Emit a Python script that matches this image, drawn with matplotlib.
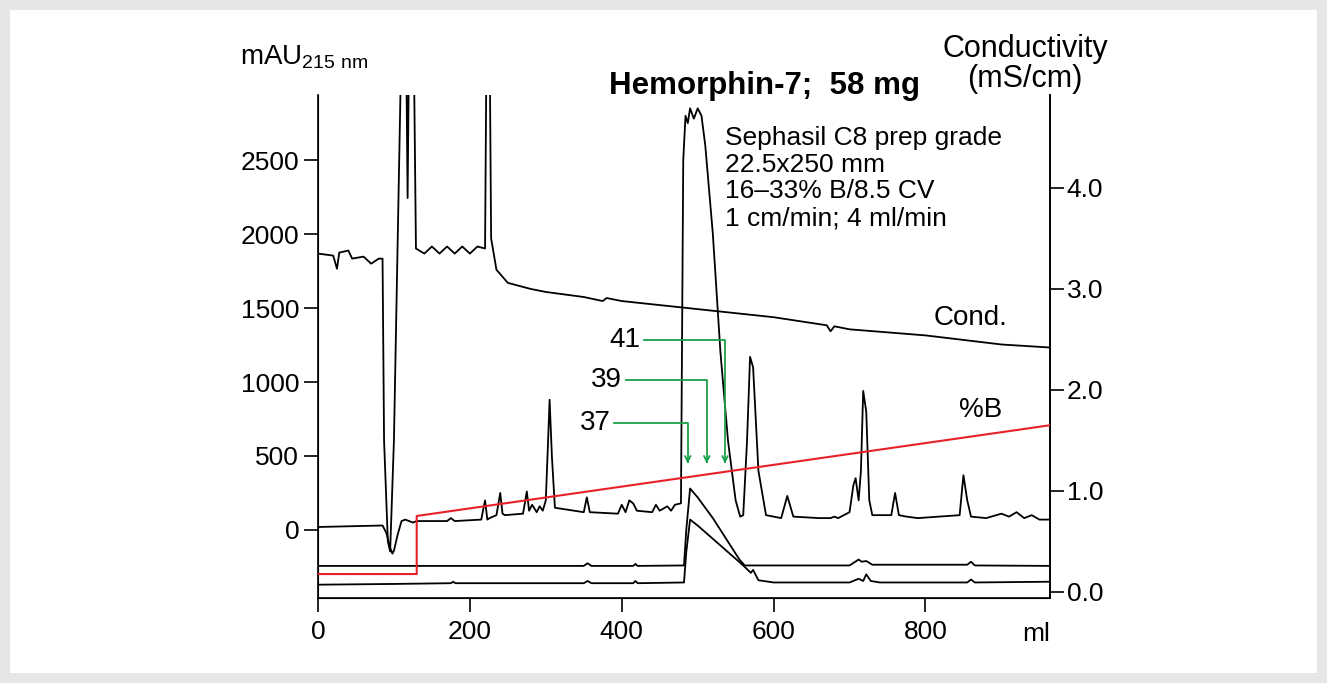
import matplotlib
matplotlib.use("Agg")
import matplotlib.pyplot as plt
from matplotlib.patches import Rectangle

plt.rcParams["font.family"] = ["Liberation Sans", "DejaVu Sans"]

# UV trace (mAU 215 nm)
uv_ml = [0, 85, 90, 95, 98, 100, 105, 110, 115, 125, 130, 170, 175, 180, 215, 220, 223, 226,
         235, 240, 243, 246, 270, 275, 278, 282, 288, 292, 296, 300, 303, 305, 308, 312, 350,
         354, 358, 395, 400, 405, 410, 415, 420, 440, 445, 450, 460, 465, 470, 478, 481, 484,
         487, 490, 495, 500, 505, 510, 520, 530, 540, 550, 556, 560, 565, 569, 573, 580, 590,
         610, 618, 626, 660, 675, 680, 685, 700, 705, 708, 712, 715, 718, 722, 726, 730, 755,
         760, 765, 775, 790, 845, 850, 855, 860, 880, 900, 910, 920, 930, 940, 950, 964]
uv_mau = [20, 30, -20, -120, -160, -140, -30, 60, 70, 50, 60, 60, 80, 60, 70, 200, 70, 80,
          100, 250, 110, 100, 110, 260, 130, 170, 120, 160, 130, 200, 600, 880, 500, 150, 120,
          220, 120, 110, 170, 120, 200, 180, 130, 120, 170, 130, 160, 130, 170, 180, 2500, 2800,
          2750, 2850, 2780, 2850, 2800, 2600, 2000, 1200, 600, 200, 90, 100, 600, 1170, 1100, 400, 100,
          80, 230, 90, 80, 80, 90, 80, 120, 300, 350, 200, 400, 940, 800, 200, 100, 100,
          250, 100, 90, 80, 100, 370, 200, 90, 80, 110, 90, 120, 80, 100, 70, 70]

# Conductivity (mS/cm)
cond_ml = [0, 20, 25, 28, 40, 45, 60, 70, 80, 85, 87, 92, 95, 100, 110, 116, 118, 120, 126,
           129, 140, 150, 160, 170, 180, 190, 200, 210, 220, 222, 226, 228, 235, 250, 280, 300,
           350, 375, 380, 400, 500, 600, 670, 675, 680, 700, 800, 900, 964]
cond_ms = [3.35, 3.33, 3.2, 3.36, 3.38, 3.3, 3.32, 3.25, 3.3, 3.3, 1.5, 0.5, 0.4, 1.5, 5.5, 5.5,
           3.9, 5.5, 5.5, 3.4, 3.35, 3.42, 3.35, 3.42, 3.35, 3.42, 3.35, 3.42, 3.4, 5.5, 5.5,
           3.5, 3.19, 3.06, 3.0, 2.97, 2.92, 2.88, 2.91, 2.88, 2.8, 2.72, 2.64, 2.58, 2.63, 2.6,
           2.54, 2.45, 2.42]

# Fraction traces (mAU, offset)
fa_ml = [0, 350, 355, 360, 415, 418, 421, 482, 485, 490, 500, 520, 540, 555, 562, 700, 712,
         716, 722, 730, 855, 860, 865, 964]
fa_mau = [-243, -243, -225, -243, -243, -230, -243, -240, 0, 280, 220, 80, -80, -200, -240,
          -240, -200, -215, -210, -235, -235, -215, -240, -243]
fb_ml = [0, 100, 175, 178, 181, 350, 355, 360, 415, 418, 421, 482, 485, 490, 500, 520, 540,
         560, 570, 573, 580, 600, 700, 712, 718, 722, 728, 740, 855, 860, 865, 964]
fb_mau = [-370, -365, -360, -350, -360, -360, -345, -360, -360, -345, -360, -355, -150, 70,
          30, -60, -150, -240, -290, -270, -340, -355, -355, -330, -345, -300, -345, -355,
          -355, -335, -355, -350]

# %B gradient
b_ml = [0, 130, 130, 964]
b_pct = [0, 0, 16, 41]

# fraction markers: label, ml, label height (mAU), label right edge (ml)
frac_labels = ["37", "39", "41"]
frac_ml = [487, 512, 536]
frac_y = [723, 1014, 1284]
frac_label_x = [385, 400, 424]

fig = plt.figure(figsize=(13.27, 6.83), dpi=100)
fig.patch.set_facecolor("#e6e6e6")
fig.add_artist(Rectangle((10 / 1327, 10 / 683), 1307 / 1327, 663 / 683,
                         transform=fig.transFigure, facecolor="white", edgecolor="none", zorder=0))

ax = fig.add_axes([318 / 1327, 1 - 598 / 683, 732 / 1327, 503 / 683])
ax.set_facecolor("none")
ax.set_xlim(0, 964)
ax.set_ylim(-460, 2940)
ax.spines["top"].set_visible(False)
for s in ("left", "bottom", "right"):
    ax.spines[s].set_linewidth(1.2)
ax.set_xticks([0, 200, 400, 600, 800])
ax.set_yticks([0, 500, 1000, 1500, 2000, 2500])
ax.tick_params(axis="both", labelsize=19, length=10, width=1.2, direction="out")
ax.tick_params(axis="x", pad=6)

ax.plot(uv_ml, uv_mau, color="black", lw=1.3, clip_on=True)
ax.plot(fa_ml, fa_mau, color="black", lw=1.3)
ax.plot(fb_ml, fb_mau, color="black", lw=1.3)

axc = ax.twinx()
axc.set_ylim(-0.06, 4.92)
axc.set_yticks([0, 1, 2, 3, 4])
axc.set_yticklabels(["0.0", "1.0", "2.0", "3.0", "4.0"])
axc.tick_params(axis="y", labelsize=19, length=10, width=1.2, direction="out", pad=2)
axc.spines["top"].set_visible(False)
axc.spines["right"].set_linewidth(1.2)
axc.plot(cond_ml, cond_ms, color="black", lw=1.3)

axb = ax.twinx()
axb.set_ylim(-6.6, 132)
axb.axis("off")
axb.plot(b_ml, b_pct, color="#e8202a", lw=1.5)

for lab, xm, yl, xl in zip(frac_labels, frac_ml, frac_y, frac_label_x):
    ax.plot([xl + 5, xm, xm], [yl, yl, 470], color="#1aa048", lw=1.3)
    ax.annotate("", xy=(xm, 430), xytext=(xm, 480),
                arrowprops=dict(arrowstyle="->", color="#1aa048", lw=1.3))
    ax.text(xl, yl, lab, fontsize=20, ha="right", va="center")

ax.text(872, 810, "%B", fontsize=20, ha="center", va="center")
ax.text(859, 1433, "Cond.", fontsize=20, ha="center", va="center")
ax.text(964, -700, "ml", fontsize=19, ha="right", va="center", clip_on=False)

fig.text(240 / 1327, 1 - 57 / 683, "mAU$_{\\mathregular{215\\ nm}}$", fontsize=20, ha="left", va="center")
fig.text(1025 / 1327, 1 - 64 / 683, "Conductivity\n(mS/cm)", fontsize=22, ha="center",
         va="center", linespacing=1.0)
fig.text(765 / 1327, 1 - 86 / 683, "Hemorphin-7;  58 mg", fontsize=22.5, fontweight="bold",
         ha="center", va="center")
fig.text(725 / 1327, 1 - 178 / 683,
         "Sephasil C8 prep grade\n22.5x250 mm\n16\u201333% B/8.5 CV\n1 cm/min; 4 ml/min",
         fontsize=19, ha="left", va="center", linespacing=1.15)

fig.savefig("out.png", dpi=100, facecolor=fig.get_facecolor())
